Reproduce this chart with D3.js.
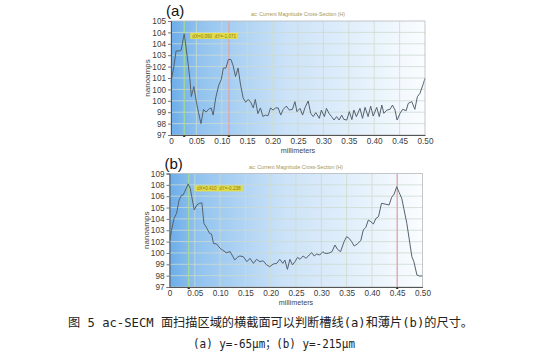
<!DOCTYPE html>
<html>
<head>
<meta charset="utf-8">
<script src="https://cdn.jsdelivr.net/npm/d3@7"></script>
<style>
  body { margin: 0; background: #fff; }
  svg { display: block; }
</style>
</head>
<body>
<div id="chart"></div>
<script>
// dados
const xTicks = [0, 0.05, 0.10, 0.15, 0.20, 0.25, 0.30, 0.35, 0.40, 0.45, 0.50];
const aYLabels = ['97', '98', '99', '100', '100', '101', '102', '103', '104', '104', '105'];
const bYLabels = ['97', '98', '99', '100', '102', '103', '104', '105', '106', '108', '109'];

const aX = [0.000, 0.006, 0.010, 0.016, 0.020, 0.026, 0.032, 0.037, 0.040, 0.045, 0.050, 0.054, 0.059,
  0.064, 0.069, 0.074, 0.079, 0.083, 0.088, 0.094, 0.099, 0.103, 0.108, 0.113, 0.118, 0.122, 0.127,
  0.132, 0.137, 0.142, 0.147, 0.152, 0.157, 0.162, 0.166, 0.171, 0.176, 0.181, 0.186, 0.191, 0.196,
  0.201, 0.206, 0.211, 0.216, 0.221, 0.227, 0.233, 0.239, 0.244, 0.248, 0.254, 0.259, 0.264, 0.270,
  0.275, 0.280, 0.285, 0.292, 0.296, 0.302, 0.306, 0.311, 0.316, 0.321, 0.326, 0.331, 0.336, 0.340,
  0.346, 0.351, 0.356, 0.360, 0.365, 0.372, 0.377, 0.382, 0.388, 0.393, 0.398, 0.405, 0.410, 0.415,
  0.419, 0.425, 0.431, 0.436, 0.441, 0.445, 0.451, 0.456, 0.463, 0.467, 0.474, 0.480, 0.485, 0.490,
  0.497, 0.500];
const aY = [100.7, 101.9, 102.9, 102.9, 102.95, 104.1, 102.5, 101.0, 99.7, 100.4, 99.3, 98.6, 97.8,
  98.8, 98.6, 98.8, 98.9, 98.4, 99.6, 100.5, 100.9, 101.7, 101.7, 102.3, 102.3, 101.9, 101.1,
  101.7, 100.5, 99.6, 99.3, 99.5, 99.3, 98.9, 99.5, 98.5, 98.9, 98.3, 98.4, 98.35, 98.9,
  98.75, 98.9, 98.9, 98.4, 98.8, 99.03, 98.75, 98.8, 99.34, 98.64, 98.87, 98.4, 98.94, 99.39,
  98.52, 98.29, 98.57, 98.17, 98.75, 98.29, 98.87, 98.52, 98.29, 98.05, 98.29, 98.05, 98.4, 98.1,
  98.05, 98.64, 98.08, 98.75, 98.29, 98.87, 98.17, 98.94, 98.29, 99.03, 98.33, 98.94, 98.29, 99.1,
  98.52, 98.75, 98.8, 99.1, 98.75, 98.05, 98.52, 98.8, 98.71, 99.22, 99.34, 98.8, 99.69, 99.92,
  100.63, 100.98];

const bX = [0.001, 0.004, 0.009, 0.014, 0.019, 0.024, 0.027, 0.033, 0.037, 0.041, 0.044, 0.049, 0.054,
  0.059, 0.064, 0.068, 0.074, 0.079, 0.083, 0.087, 0.093, 0.100, 0.105, 0.112, 0.120, 0.129, 0.134,
  0.139, 0.146, 0.153, 0.159, 0.166, 0.172, 0.179, 0.185, 0.192, 0.198, 0.205, 0.212, 0.218, 0.224,
  0.228, 0.233, 0.238, 0.243, 0.248, 0.253, 0.258, 0.264, 0.270, 0.276, 0.281, 0.286, 0.291, 0.297,
  0.303, 0.307, 0.314, 0.321, 0.327, 0.332, 0.338, 0.345, 0.350, 0.355, 0.360, 0.365, 0.371, 0.378,
  0.383, 0.388, 0.393, 0.398, 0.403, 0.408, 0.413, 0.419, 0.426, 0.434, 0.439, 0.444, 0.449, 0.454,
  0.459, 0.463, 0.469, 0.474, 0.479, 0.483, 0.489, 0.494, 0.500];
const bY = [101.97, 103.0, 104.26, 104.79, 106.2, 106.73, 106.73, 107.43, 107.9, 107.43, 106.55, 105.14, 105.67,
  105.85, 105.9, 103.73, 103.2, 102.68, 102.6, 101.6, 101.55, 101.09, 100.9, 100.63, 100.73, 99.85, 100.14,
  100.28, 100.2, 99.67, 100.03, 99.5, 99.93, 99.67, 99.78, 99.33, 99.15, 99.43, 99.5, 99.93, 99.5,
  99.85, 98.87, 99.93, 99.33, 99.67, 100.14, 99.93, 100.28, 100.03, 100.38, 100.63, 100.28, 100.49, 100.38,
  100.73, 100.56, 100.56, 100.73, 101.44, 100.98, 100.73, 101.79, 102.32, 102.15, 101.79, 101.33, 101.55, 101.9,
  103.03, 103.31, 104.08, 103.9, 103.66, 104.26, 104.43, 105.85, 105.77, 105.67, 106.48, 106.83, 107.6, 106.97,
  106.38, 105.32, 103.73, 101.97, 100.2, 99.67, 98.27, 98.16, 98.16];

const panels = [
  { tag: '(a)', xs: aX, ys: aY, yLabels: aYLabels, yDomain: [97, 105], cursors: [0.026, 0.114],
    box: 'dX=0.090  dY=-1.071', left: 171, right: 425, top: 21, bottom: 135 },
  { tag: '(b)', xs: bX, ys: bY, yLabels: bYLabels, yDomain: [97, 109], cursors: [0.038, 0.45],
    box: 'dX=0.410  dY=-0.238', left: 169.5, right: 422.5, top: 173.5, bottom: 287 }
];

const W = 556, H = 359;
const svg = d3.select('#chart').append('svg').attr('width', W).attr('height', H);

const defs = svg.append('defs');
const grad = defs.append('linearGradient').attr('id', 'bg').attr('x1', '0%').attr('x2', '100%');
[[0, '#6dade9'], [0.12, '#93c4ef'], [0.45, '#cbe2f8'], [0.8, '#e9f3fc'], [1, '#fbfdff']]
  .forEach(s => grad.append('stop').attr('offset', s[0]).attr('stop-color', s[1]));

panels.forEach(p => {
  const x = d3.scaleLinear().domain([0, 0.5]).range([p.left, p.right]);
  const y = d3.scaleLinear().domain(p.yDomain).range([p.bottom, p.top]);
  const yTicks = d3.range(11).map(i => p.yDomain[0] + i * (p.yDomain[1] - p.yDomain[0]) / 10);
  const g = svg.append('g');

  g.append('rect')
    .attr('x', p.left).attr('y', p.top)
    .attr('width', p.right - p.left).attr('height', p.bottom - p.top)
    .attr('fill', 'url(#bg)');

  // grade
  g.append('g').selectAll('line').data(xTicks.slice(1, -1)).enter().append('line')
    .attr('x1', d => x(d)).attr('x2', d => x(d))
    .attr('y1', p.top).attr('y2', p.bottom)
    .attr('stroke', '#cddbcf').attr('stroke-width', 0.8);
  g.append('g').selectAll('line').data(yTicks.slice(1, -1)).enter().append('line')
    .attr('x1', p.left).attr('x2', p.right)
    .attr('y1', d => y(d)).attr('y2', d => y(d))
    .attr('stroke', '#cddbcf').attr('stroke-width', 0.8);

  // cursores
  g.append('line')
    .attr('x1', x(p.cursors[0])).attr('x2', x(p.cursors[0]))
    .attr('y1', p.top).attr('y2', p.bottom)
    .attr('stroke', '#a6dc8c').attr('stroke-width', 1.2);
  g.append('line')
    .attr('x1', x(p.cursors[1])).attr('x2', x(p.cursors[1]))
    .attr('y1', p.top).attr('y2', p.bottom)
    .attr('stroke', '#e8a0a8').attr('stroke-width', 1.2);

  const bx = x(p.cursors[0]) + 6, by = p.top + (p.bottom - p.top) * 0.105;
  g.append('rect')
    .attr('x', bx).attr('y', by)
    .attr('width', 48).attr('height', 6)
    .attr('fill', '#e2dc48');
  g.append('text')
    .attr('x', bx + 24).attr('y', by + 4.6)
    .attr('text-anchor', 'middle')
    .style('white-space', 'pre')
    .attr('font-family', 'Liberation Sans, Arial, sans-serif').attr('font-size', 4.6)
    .attr('fill', '#8a7e24')
    .text(p.box);

  const line = d3.line().x((d, i) => x(p.xs[i])).y(d => y(d));
  g.append('path').datum(p.ys)
    .attr('d', line)
    .attr('fill', 'none')
    .attr('stroke', '#55626f').attr('stroke-width', 1);

  // moldura
  g.append('rect')
    .attr('x', p.left).attr('y', p.top)
    .attr('width', p.right - p.left).attr('height', p.bottom - p.top)
    .attr('fill', 'none').attr('stroke', '#b4b8bc').attr('stroke-width', 0.8);

  const yAxis = d3.axisLeft(y).tickValues(yTicks)
    .tickFormat((d, i) => p.yLabels[i]).tickSize(3).tickPadding(2);
  const ya = g.append('g').attr('transform', `translate(${p.left},0)`).call(yAxis);
  ya.select('.domain').attr('stroke', '#555');
  ya.selectAll('.tick line').attr('stroke', '#777');
  ya.selectAll('text').attr('font-family', 'Liberation Sans, Arial, sans-serif')
    .attr('font-size', 8.2).attr('fill', '#3c3c3c');

  const xAxis = d3.axisBottom(x).tickValues(xTicks)
    .tickFormat(d => d === 0 ? '0' : d.toFixed(2)).tickSize(0).tickPadding(3);
  const xa = g.append('g').attr('transform', `translate(0,${p.bottom})`).call(xAxis);
  xa.select('.domain').attr('stroke', '#555');
  xa.selectAll('text').attr('font-family', 'Liberation Sans, Arial, sans-serif')
    .attr('font-size', 8.2).attr('fill', '#3c3c3c');

  g.selectAll('.cmark').data(p.cursors).enter().append('path')
    .attr('d', d => `M${x(d) - 1.5},${p.bottom + 2}L${x(d) + 1.5},${p.bottom + 2}L${x(d)},${p.bottom}Z`)
    .attr('fill', '#333');

  g.append('text')
    .attr('x', (p.left + p.right) / 2).attr('y', p.bottom + 18)
    .attr('text-anchor', 'middle')
    .attr('font-family', 'Liberation Sans, Arial, sans-serif').attr('font-size', 7.2)
    .attr('fill', '#444')
    .text('millimeters');

  g.append('text')
    .attr('transform', `translate(${p.left - 21},${(p.top + p.bottom) / 2}) rotate(-90)`)
    .attr('text-anchor', 'middle')
    .attr('font-family', 'Liberation Sans, Arial, sans-serif').attr('font-size', 8)
    .attr('fill', '#444')
    .text('nanoamps');

  g.append('text')
    .attr('x', (p.left + p.right) / 2).attr('y', p.top - 5)
    .attr('text-anchor', 'middle')
    .attr('font-family', 'Liberation Sans, Arial, sans-serif').attr('font-size', 5.2)
    .attr('fill', '#a8964c')
    .text('ac: Current Magnitude Cross-Section (H)');

  g.append('text')
    .attr('x', p.left - 5).attr('y', p.top - 5)
    .attr('font-family', 'Liberation Sans, Arial, sans-serif').attr('font-size', 15)
    .attr('fill', '#111')
    .text(p.tag);
});

svg.append('text')
  .attr('x', 68).attr('y', 326.5)
  .attr('textLength', 405).attr('lengthAdjust', 'spacingAndGlyphs')
  .attr('font-family', 'DejaVu Sans Mono, Noto Sans CJK SC, monospace').attr('font-size', 12.5)
  .attr('fill', '#222')
  .text('图 5 ac-SECM 面扫描区域的横截面可以判断槽线(a)和薄片(b)的尺寸。');

svg.append('text')
  .attr('x', 193).attr('y', 348)
  .attr('textLength', 162).attr('lengthAdjust', 'spacingAndGlyphs')
  .attr('font-family', 'DejaVu Sans Mono, Noto Sans CJK SC, monospace').attr('font-size', 12.5)
  .attr('fill', '#222')
  .text('(a) y=-65μm；(b) y=-215μm');
</script>
</body>
</html>
